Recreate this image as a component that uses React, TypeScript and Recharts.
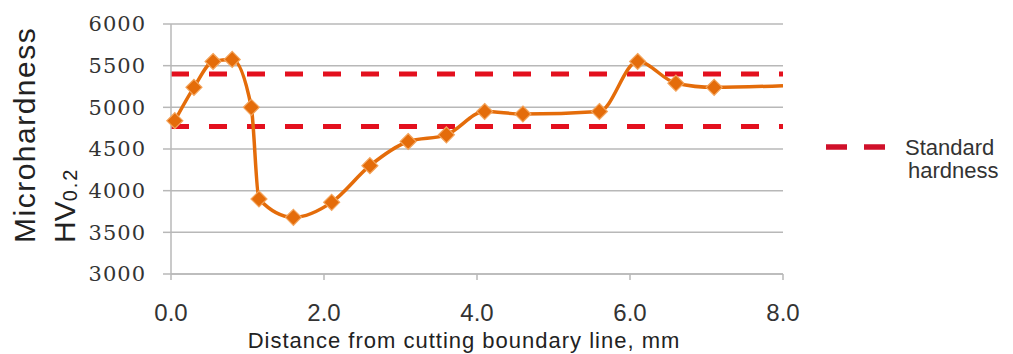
import {
  LineChart,
  Line,
  XAxis,
  YAxis,
  CartesianGrid,
  ReferenceLine,
} from 'recharts';

const distances = [0.05, 0.3, 0.55, 0.8, 1.05, 1.15, 1.6, 2.1, 2.6, 3.1, 3.6, 4.1, 4.6, 5.6, 6.1, 6.6, 7.1, 8.0];
const hardness = [4840, 5240, 5550, 5575, 5000, 3900, 3680, 3860, 4300, 4590, 4670, 4950, 4920, 4950, 5550, 5290, 5240, 5260];
const standardLimits = [4770, 5400];
const xTicks = [0, 2, 4, 6, 8];
const yTicks = [3000, 3500, 4000, 4500, 5000, 5500, 6000];

const data = distances.map((d, i) => ({ x: d, hv: hardness[i] }));

const ORANGE = '#e46c0a';
const RED = '#e3101e';
const GRID = '#b8b8b8';

function Diamond(props: any) {
  const { cx, cy, index } = props;
  if (index === data.length - 1 || cx == null) return <g key={`d-${index}`} />;
  const r = 8;
  return (
    <polygon
      key={`d-${index}`}
      points={`${cx},${cy - r} ${cx + r},${cy} ${cx},${cy + r} ${cx - r},${cy}`}
      fill={ORANGE}
      stroke="#f3a45c"
      strokeWidth={1.2}
    />
  );
}

function YLabel(props: any) {
  const vb = props.viewBox || { x: 0, y: 24, height: 250 };
  const bottom = vb.y + vb.height - 31;
  const x1 = 35;
  const x2 = 75;
  return (
    <g fill="#222" fontFamily="Liberation Sans, Arial, sans-serif">
      <text x={x1} y={bottom} transform={`rotate(-90, ${x1}, ${bottom})`} fontSize={30} letterSpacing={1.5}>
        Microhardness
      </text>
      <text x={x2} y={bottom} transform={`rotate(-90, ${x2}, ${bottom})`} fontSize={30}>
        HV
        <tspan fontSize={20} dy={2} letterSpacing={2}>0.2</tspan>
      </text>
    </g>
  );
}

function XLabel(props: any) {
  const vb = props.viewBox || { x: 171, y: 274, width: 612, height: 80 };
  return (
    <text
      x={vb.x + vb.width / 2 - 13}
      y={348}
      textAnchor="middle"
      fill="#222"
      fontFamily="Liberation Sans, Arial, sans-serif"
      fontSize={22}
      letterSpacing={1}
    >
      Distance from cutting boundary line, mm
    </text>
  );
}

// legend drawn beside the plot so it doesn't eat into the chart's layout
function StandardLegend() {
  return (
    <svg width={193} height={70} style={{ position: 'absolute', left: 820, top: 128 }}>
      <line x1={6} y1={19} x2={68} y2={19} stroke="#d0102a" strokeWidth={5.5} strokeDasharray="21 17" />
      <g fill="#333" fontFamily="Liberation Sans, Arial, sans-serif" fontSize={22}>
        <text x={85} y={27}>Standard</text>
        <text x={88} y={50}>hardness</text>
      </g>
    </svg>
  );
}

export default function App() {
  return (
    <div style={{ position: 'absolute', left: 0, top: 0, width: 1013, height: 354, background: '#fff' }}>
      <LineChart width={1013} height={354} data={data} margin={{ top: 24, right: 230, bottom: 0, left: 0 }}>
        <CartesianGrid vertical={false} stroke={GRID} strokeWidth={1.5} />
        <XAxis
          type="number"
          dataKey="x"
          domain={[0, 8]}
          ticks={xTicks}
          tickFormatter={(v: number) => v.toFixed(1)}
          height={80}
          tickSize={6}
          tickMargin={24}
          stroke={GRID}
          strokeWidth={1.5}
          tick={{ fill: '#333', fontSize: 24, fontFamily: 'Liberation Sans, Arial, sans-serif' }}
          interval={0}
          label={<XLabel />}
        />
        <YAxis
          type="number"
          domain={[3000, 6000]}
          ticks={yTicks}
          width={171}
          tickSize={8}
          tickMargin={17}
          stroke={GRID}
          strokeWidth={1.5}
          tick={{ fill: '#333', fontSize: 21, fontFamily: 'DejaVu Serif, serif', letterSpacing: 1 }}
          interval={0}
          label={<YLabel />}
        />
        {standardLimits.map((v) => (
          <ReferenceLine
            key={v}
            y={v}
            stroke={RED}
            strokeWidth={5}
            strokeDasharray="18 20"
          />
        ))}
        <Line
          type="monotone"
          dataKey="hv"
          stroke={ORANGE}
          strokeWidth={3.5}
          dot={Diamond}
          activeDot={false}
          isAnimationActive={false}
        />
      </LineChart>
      <StandardLegend />
    </div>
  );
}
